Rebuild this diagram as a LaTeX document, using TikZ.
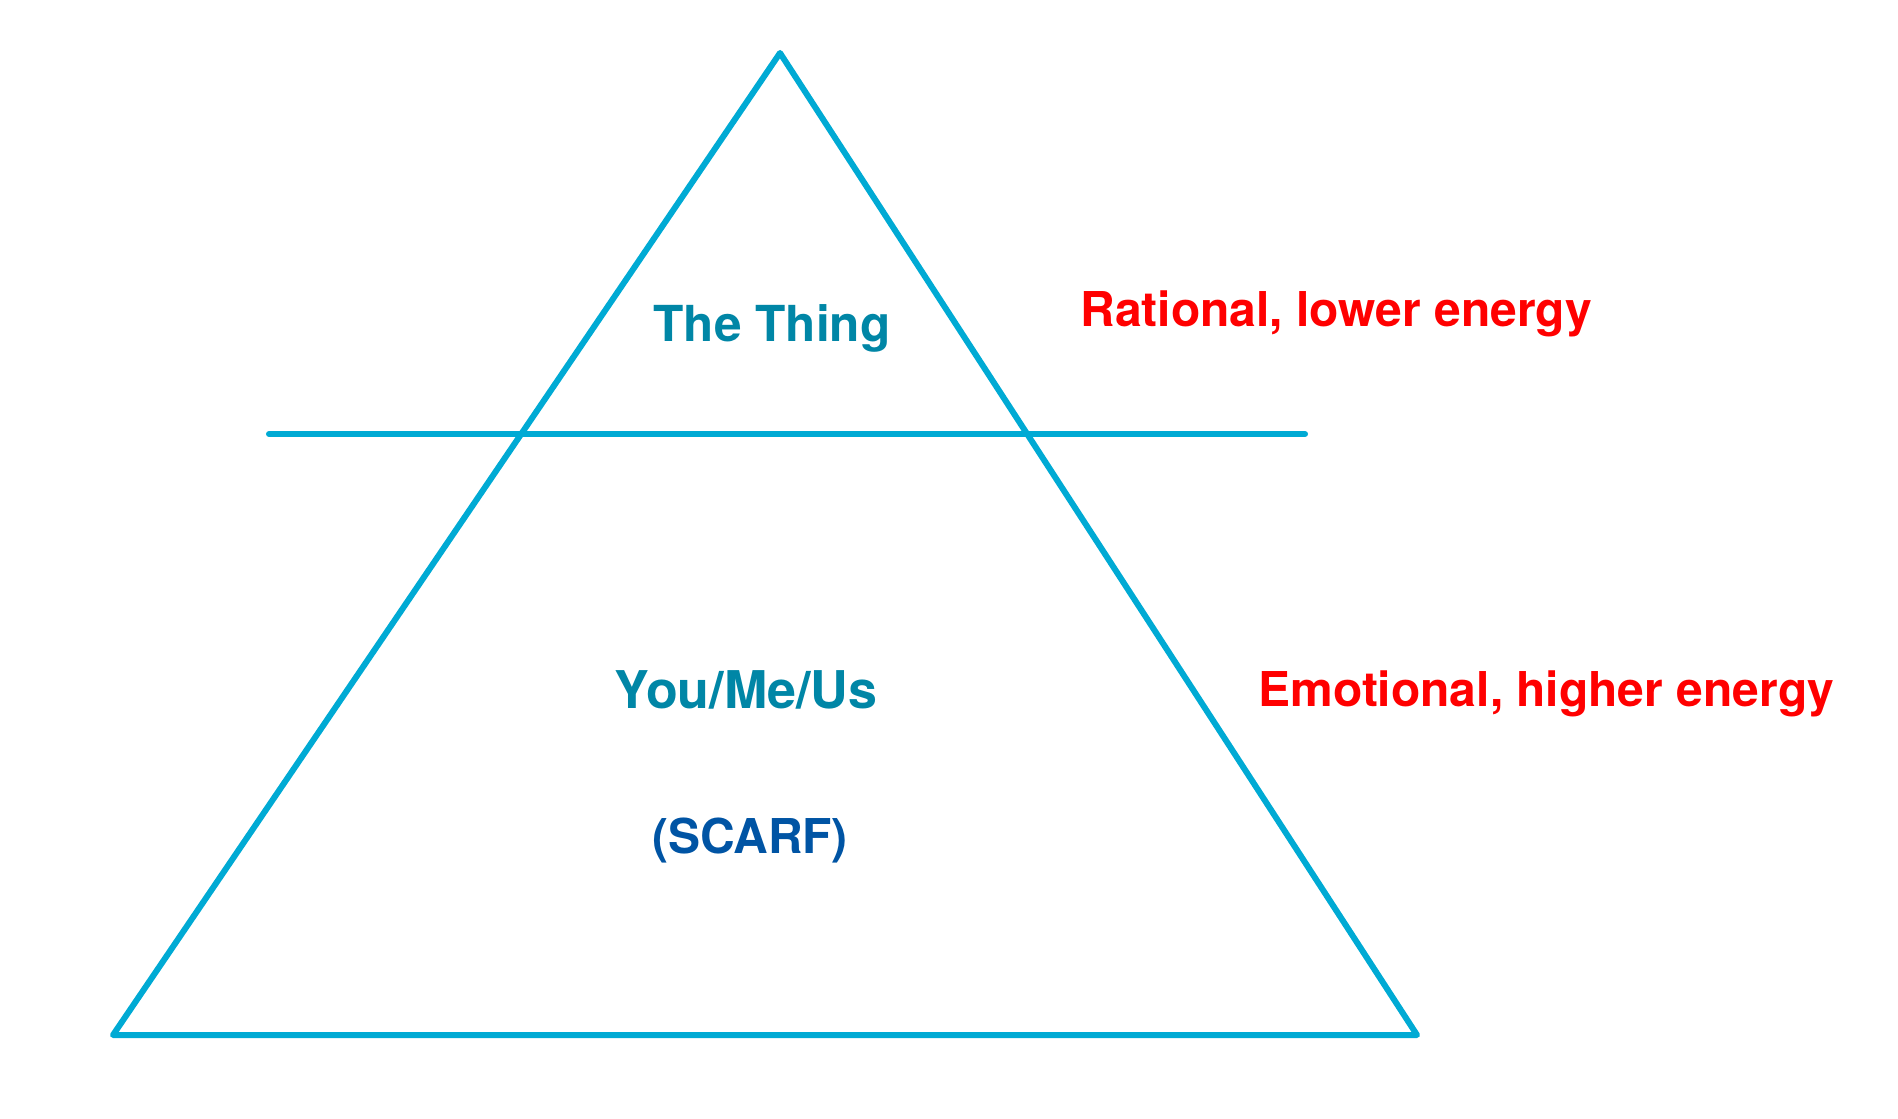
\documentclass[tikz,border=0pt]{standalone}
\usepackage{fontspec}
\setmainfont{TeX Gyre Heros}
\definecolor{pyrline}{RGB}{0,170,212}
\definecolor{thingcol}{RGB}{0,134,166}
\definecolor{scarfcol}{RGB}{0,84,164}
\definecolor{energycol}{RGB}{255,0,0}
\tikzset{
  pyr/.style={line width=3pt, pyrline, line cap=round, line join=round},
  lbl/.style={inner sep=0pt, anchor=base, font=\fontsize{24}{28}\selectfont\bfseries},
}
\begin{document}
\begin{tikzpicture}[x=0.5pt, y=-0.5pt]
\useasboundingbox (0,0) rectangle (1898,1118);
\coordinate (apex) at (780,53);
\coordinate (bl) at (113,1035);
\coordinate (br) at (1417,1035);
\coordinate (cutL) at (269,434);
\coordinate (cutR) at (1305,434);
\draw[pyr] (apex)--(bl)--(br)--cycle;
\draw[pyr] (cutL)--(cutR);
\node[lbl, thingcol, font=\fontsize{24.8}{28}\selectfont\bfseries] (thing) at (772,341) {The Thing};
\node[lbl, thingcol, font=\fontsize{26}{30}\selectfont\bfseries] (youme) at (746,708) {You/Me/Us};
\node[lbl, scarfcol] (scarf) at (750,853) {(SCARF)};
\node[lbl, energycol, anchor=base west] (rational) at (1080,326) {Rational, lower energy};
\node[lbl, energycol, anchor=base west] (emotional) at (1258,706) {Emotional, higher energy};
\end{tikzpicture}
\end{document}
